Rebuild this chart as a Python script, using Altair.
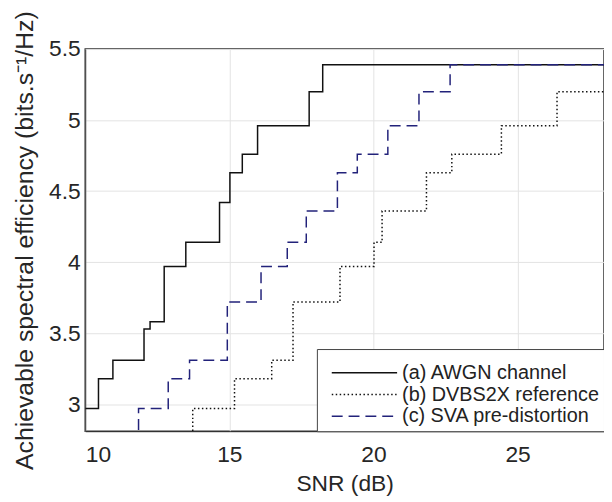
import altair as alt
import pandas as pd

series_names = ["(a) AWGN channel", "(b) DVBS2X reference", "(c) SVA pre-distortion"]

awgn_x = [10.0, 10.46, 10.96, 12.04, 12.25, 12.74, 13.49, 14.66, 15.02, 15.45, 15.98, 17.77, 18.24, 28.0]
awgn_y = [2.97, 3.18, 3.31, 3.53, 3.58, 3.97, 4.14, 4.42, 4.63, 4.76, 4.96, 5.20, 5.39, 5.39]

dvb_x = [13.73, 13.73, 15.18, 16.47, 17.21, 18.84, 20.02, 20.30, 21.84, 22.72, 24.44, 26.37, 28.0]
dvb_y = [2.70, 2.97, 3.18, 3.31, 3.72, 3.97, 4.14, 4.36, 4.63, 4.76, 4.96, 5.20, 5.20]

sva_x = [11.85, 11.85, 12.88, 13.62, 14.93, 16.10, 17.01, 17.67, 18.75, 19.44, 20.50, 21.58, 22.66, 28.0]
sva_y = [2.70, 2.97, 3.18, 3.31, 3.72, 3.97, 4.14, 4.36, 4.63, 4.76, 4.96, 5.20, 5.39, 5.39]

rows = []
for name, xs, ys in [(series_names[0], awgn_x, awgn_y),
                     (series_names[1], dvb_x, dvb_y),
                     (series_names[2], sva_x, sva_y)]:
    for i, (xv, yv) in enumerate(zip(xs, ys)):
        rows.append({"series": name, "snr": xv, "eff": yv, "order": i})
df = pd.DataFrame(rows)

FONT = "Liberation Sans"

chart = alt.Chart(df).mark_line(interpolate="step-after", strokeWidth=1.5, clip=True).encode(
    x=alt.X("snr:Q", title="SNR (dB)",
            scale=alt.Scale(domain=[10, 28], nice=False, zero=False),
            axis=alt.Axis(values=[10, 15, 20, 25], format="~g", tickSize=0, labelPadding=13,
                          titlePadding=6, labelFontSize=23, titleFontSize=23,
                          labelFont=FONT, titleFont=FONT, labelColor="#262626", titleColor="#262626",
                          titleFontWeight="normal", gridColor="#e3e3e3", domainColor="#333")),
    y=alt.Y("eff:Q", title="Achievable spectral efficiency (bits.s⁻¹/Hz)",
            scale=alt.Scale(domain=[2.81, 5.5], nice=False, zero=False),
            axis=alt.Axis(values=[3, 3.5, 4, 4.5, 5, 5.5], format="~g", tickSize=0, labelPadding=5,
                          titlePadding=11, labelFontSize=23, titleFontSize=25,
                          labelFont=FONT, titleFont=FONT, labelColor="#262626", titleColor="#262626",
                          titleFontWeight="normal", gridColor="#e3e3e3", domainColor="#333")),
    color=alt.Color("series:N", scale=alt.Scale(domain=series_names, range=["#111111", "#111111", "#22227a"]),
                    legend=alt.Legend(title=" ")),
    strokeDash=alt.StrokeDash("series:N", scale=alt.Scale(domain=series_names, range=[[1, 0], [1.5, 2.5], [11, 6]]),
                              legend=alt.Legend(title=" ")),
    order="order:Q",
).properties(
    width=524, height=386,
    autosize=alt.AutoSizeParams(type="none"),
    padding={"left": 78, "top": 39, "right": 0, "bottom": 66},
).configure_view(
    stroke="#333", strokeWidth=1.5
).configure_legend(
    orient="bottom-right", offset=0, strokeColor="#444", fillColor="white", padding=5,
    titleFontSize=6, titlePadding=1,
    labelFont=FONT, labelFontSize=20, labelColor="#222", symbolType="M-0.18,0H5.82",
    symbolSize=484, symbolStrokeWidth=1.5, labelOffset=57, rowPadding=0, cornerRadius=0,
    labelLimit=400,
)

chart.save("out.html", embed_options={"renderer": "svg", "actions": False})
